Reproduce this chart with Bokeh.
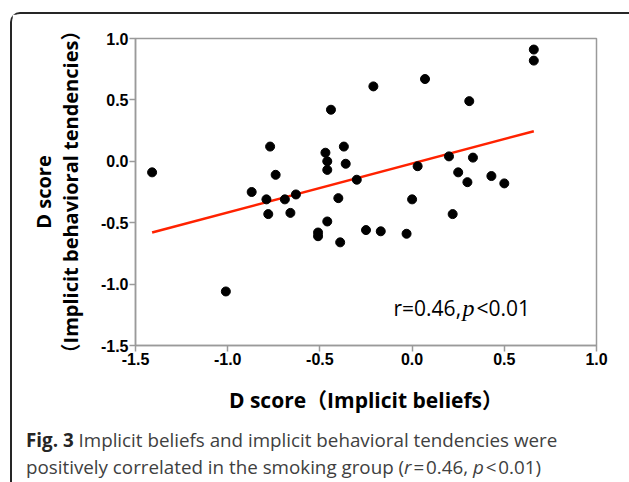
from bokeh.plotting import figure
from bokeh.layouts import column
from bokeh.models import Range1d, FixedTicker, PrintfTickFormatter, Label, Div
from bokeh.embed import file_html
from bokeh.resources import INLINE

# ---- data ----
implicit_beliefs = [-1.41, -1.01, -0.87, -0.79, -0.78, -0.77, -0.74, -0.69, -0.66, -0.63,
                    -0.51, -0.51, -0.47, -0.46, -0.46, -0.46, -0.44, -0.40, -0.39, -0.37,
                    -0.36, -0.30, -0.25, -0.21, -0.17, -0.03, 0.00, 0.03, 0.07, 0.20,
                    0.22, 0.25, 0.30, 0.31, 0.33, 0.43, 0.50, 0.66, 0.66]
implicit_behavior = [-0.09, -1.06, -0.25, -0.31, -0.43, 0.12, -0.11, -0.31, -0.42, -0.27,
                     -0.58, -0.61, 0.07, 0.00, -0.07, -0.49, 0.42, -0.30, -0.66, 0.12,
                     -0.02, -0.15, -0.56, 0.61, -0.57, -0.59, -0.31, -0.04, 0.67, 0.04,
                     -0.43, -0.09, -0.17, 0.49, 0.03, -0.12, -0.18, 0.91, 0.82]
fit_x = [-1.41, 0.66]
fit_y = [-0.58, 0.245]
tick_values = [-1.5, -1.0, -0.5, 0.0, 0.5, 1.0]
x_title = "D score（Implicit beliefs）"
y_title = "D score\n（Implicit behavioral tendencies）"
stat_r = "r=0.46,"
stat_p = "p"
stat_rest = "<0.01"
caption_html = ("<b style='color:#262626'>Fig. 3</b> Implicit beliefs and implicit behavioral "
                "tendencies were<br>positively correlated in the smoking group "
                "(<i>r</i>\u200a=\u200a0.46, <i>p</i>\u200a&lt;\u200a0.01)")

SANS = "Open Sans, Noto Sans CJK SC"
AX = "#9a9a9a"

# canvas origin sits at page (12, 14) inside the card border
p = figure(width=614, height=408, output_backend="svg", toolbar_location=None,
           x_range=Range1d(-1.5, 1.0), y_range=Range1d(-1.5, 1.0),
           min_border_left=123, min_border_right=30, min_border_top=24, min_border_bottom=77)
p.background_fill_color = "white"
p.border_fill_color = "white"
p.xgrid.visible = False
p.ygrid.visible = False
p.outline_line_color = AX
p.outline_line_width = 1.5

for ax in (p.xaxis[0], p.yaxis[0]):
    ax.ticker = FixedTicker(ticks=tick_values)
    ax.formatter = PrintfTickFormatter(format="%.1f")
    ax.axis_line_color = AX
    ax.axis_line_width = 1.5
    ax.major_tick_line_color = AX
    ax.major_tick_line_width = 1.5
    ax.major_tick_in = 0
    ax.major_tick_out = 6
    ax.minor_tick_line_color = None
    ax.major_label_text_font = "Liberation Sans"
    ax.major_label_text_font_style = "bold"
    ax.major_label_text_font_size = "16px"
    ax.major_label_text_color = "black"
    ax.axis_label_text_font = SANS
    ax.axis_label_text_font_style = "bold"
    ax.axis_label_text_color = "black"
p.xaxis[0].major_label_standoff = 1
p.yaxis[0].major_label_standoff = 1
p.xaxis[0].axis_label = x_title
p.xaxis[0].axis_label_text_font_size = "21px"
p.xaxis[0].axis_label_standoff = 18
p.yaxis[0].axis_label = y_title
p.yaxis[0].axis_label_text_font_size = "20px"
p.yaxis[0].axis_label_text_line_height = 1.0
p.yaxis[0].axis_label_standoff = 14

p.line(fit_x, fit_y, line_color="#ff2200", line_width=2.5)
p.scatter(implicit_beliefs, implicit_behavior, size=9, fill_color="black", line_color="black")

# frame bottom-left corner is page (135, 345)
def lab(text, px, py, size, style="normal", font=SANS, color="black"):
    p.add_layout(Label(x=-1.5, y=-1.5, x_offset=px - 135, y_offset=345 - py, text=text,
                       text_font=font, text_font_size=f"{size}px", text_font_style=style,
                       text_color=color, text_align="left", text_baseline="alphabetic"))

lab(stat_r, 393, 307, 21)
lab(stat_p, 462, 307, 24, "italic", font="Liberation Serif")
lab(stat_rest, 476, 307, 21)

caption = Div(text=caption_html, width=614, height=56,
              styles={"font-family": "'Open Sans', sans-serif", "font-size": "18.8px",
                      "line-height": "27px", "color": "#404040",
                      "padding-left": "9px", "box-sizing": "border-box",
                      "white-space": "nowrap"})

layout = column(p, caption, margin=(12, 0, 0, 10),
                styles={"border": "2px solid #262626", "border-bottom": "none",
                        "border-radius": "10px 10px 0 0", "background": "white"})

open("out.html", "w").write(file_html(layout, INLINE))
